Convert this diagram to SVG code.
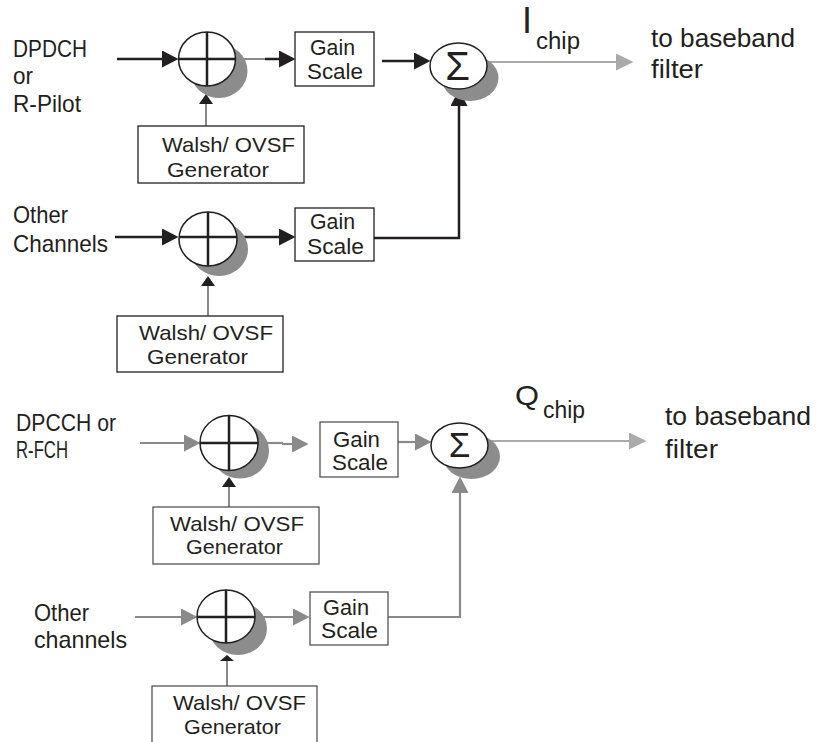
<svg xmlns="http://www.w3.org/2000/svg" width="821" height="742" viewBox="0 0 821 742">
<style>
text{font-family:"Liberation Sans",Arial,sans-serif;fill:#231f20}
.lbl{font-size:24px}
.gs{font-size:22px;text-anchor:start}
.ws{font-size:21px}
.rt{font-size:26px}
.box{fill:#fff;stroke:#231f20;stroke-width:1.3}
.boxg{fill:#fff;stroke:#555;stroke-width:1.3}
.circ{fill:#fff;stroke:#231f20;stroke-width:1.5}
.shadow{fill:#8c8c8c}
.cross{stroke:#231f20;stroke-width:2.5;fill:none}
.blk{stroke:#231f20;stroke-width:2.5;fill:none}
.gry{stroke:#8a8a8a;stroke-width:2.2;fill:none}
.lgt{stroke:#aaaaaa;stroke-width:2.2;fill:none}
.thin{stroke:#3a3a3a;stroke-width:1.2;fill:none}
.sig{font-family:"Liberation Sans",Arial,sans-serif;text-anchor:middle}
</style>
<defs>
<marker id="ab" markerWidth="17" markerHeight="17" refX="13" refY="8.5" orient="auto" markerUnits="userSpaceOnUse"><path d="M0,0 L16.5,8.5 L0,17z" fill="#231f20"/></marker>
<marker id="ag" markerWidth="17" markerHeight="17" refX="13" refY="8.5" orient="auto" markerUnits="userSpaceOnUse"><path d="M0,0 L16.5,8.5 L0,17z" fill="#8a8a8a"/></marker>
<marker id="al" markerWidth="18" markerHeight="17" refX="14" refY="8.5" orient="auto" markerUnits="userSpaceOnUse"><path d="M0,0 L17.5,8.5 L0,17z" fill="#aaaaaa"/></marker>
<marker id="as" markerWidth="10" markerHeight="14" refX="7" refY="7" orient="auto" markerUnits="userSpaceOnUse"><path d="M0,0 L10,7 L0,14z" fill="#231f20"/></marker>
<marker id="af" markerWidth="7" markerHeight="14" refX="4" refY="7" orient="auto" markerUnits="userSpaceOnUse"><path d="M0,0 L6,7 L0,14z" fill="#231f20"/></marker>
</defs>

<g id="labels">
<text class="lbl" x="13" y="57" textLength="74" lengthAdjust="spacingAndGlyphs">DPDCH</text>
<text class="lbl" x="13" y="84" textLength="20" lengthAdjust="spacingAndGlyphs">or</text>
<text class="lbl" x="13" y="112" textLength="68" lengthAdjust="spacingAndGlyphs">R-Pilot</text>
<text class="lbl" x="13" y="223" textLength="55" lengthAdjust="spacingAndGlyphs">Other</text>
<text class="lbl" x="13" y="252" textLength="95" lengthAdjust="spacingAndGlyphs">Channels</text>
<text class="lbl" x="16" y="431" textLength="100" lengthAdjust="spacingAndGlyphs">DPCCH or</text>
<text class="lbl" x="16" y="458" textLength="52" lengthAdjust="spacingAndGlyphs">R-FCH</text>
<text class="lbl" x="34" y="621" textLength="55" lengthAdjust="spacingAndGlyphs">Other</text>
<text class="lbl" x="34" y="648" textLength="93" lengthAdjust="spacingAndGlyphs">channels</text>
<text x="522" y="33" style="font-size:36px">I</text>
<text x="536" y="49" style="font-size:23px" textLength="44" lengthAdjust="spacingAndGlyphs">chip</text>
<text class="rt" x="651" y="47" textLength="144" lengthAdjust="spacingAndGlyphs">to baseband</text>
<text class="rt" x="651" y="78" textLength="52" lengthAdjust="spacingAndGlyphs">filter</text>
<text x="515" y="405" style="font-size:28px" textLength="24" lengthAdjust="spacingAndGlyphs">Q</text>
<text x="543" y="418" style="font-size:23px" textLength="42" lengthAdjust="spacingAndGlyphs">chip</text>
<text class="rt" x="665" y="425" textLength="146" lengthAdjust="spacingAndGlyphs">to baseband</text>
<text class="rt" x="665" y="458" textLength="53" lengthAdjust="spacingAndGlyphs">filter</text>
</g>

<g id="connectors">
<line class="blk" x1="117" y1="59" x2="175" y2="59" marker-end="url(#ab)"/>
<line class="thin" x1="236" y1="59" x2="266" y2="59"/>
<line class="blk" x1="265" y1="59" x2="292" y2="59" marker-end="url(#ab)"/>
<line class="blk" x1="382" y1="61" x2="427" y2="61" marker-end="url(#ab)"/>
<line class="lgt" x1="487" y1="62" x2="630" y2="62" marker-end="url(#al)"/>
<line class="thin" x1="206" y1="126" x2="206" y2="97" marker-end="url(#as)"/>
<line class="blk" x1="115" y1="237" x2="175" y2="237" marker-end="url(#ab)"/>
<line class="blk" x1="237" y1="237" x2="292" y2="237" marker-end="url(#ab)"/>
<polyline class="blk" points="374,238 459,238 459,93" marker-end="url(#ab)"/>
<line class="thin" x1="208" y1="316" x2="208" y2="279" marker-end="url(#as)"/>
<line class="gry" x1="140" y1="443" x2="197" y2="443" marker-end="url(#ag)"/>
<line class="gry" x1="258" y1="443" x2="283" y2="443"/>
<line class="gry" x1="282" y1="444" x2="305" y2="444" marker-end="url(#ag)"/>
<line class="gry" x1="398" y1="442" x2="428" y2="442" marker-end="url(#ag)"/>
<line class="lgt" x1="488" y1="441" x2="643" y2="441" marker-end="url(#al)"/>
<line class="thin" x1="229" y1="507" x2="229" y2="480" marker-end="url(#as)"/>
<line class="gry" x1="135" y1="617" x2="194" y2="617" marker-end="url(#ag)"/>
<line class="gry" x1="255" y1="617" x2="306" y2="617" marker-end="url(#ag)"/>
<polyline class="gry" points="388,617 460,617 460,480" marker-end="url(#ag)"/>
<line class="thin" x1="227" y1="686" x2="227" y2="657" marker-end="url(#af)"/>
</g>

<g id="xor1">
<ellipse class="shadow" cx="219" cy="71" rx="28.5" ry="27"/>
<ellipse class="circ" cx="207" cy="59" rx="28.5" ry="27"/>
<path class="cross" d="M207,32 V86 M178.5,59 H235.5"/>
</g>
<g id="gain1">
<rect class="box" x="295" y="32" width="79" height="54"/>
<text class="gs" x="310" y="55" textLength="45" lengthAdjust="spacingAndGlyphs">Gain</text>
<text class="gs" x="307" y="79" textLength="56" lengthAdjust="spacingAndGlyphs">Scale</text>
</g>
<g id="walsh1">
<rect class="box" x="138" y="126" width="166" height="57"/>
<text class="ws" x="162" y="152" textLength="133" lengthAdjust="spacingAndGlyphs">Walsh/ OVSF</text>
<text class="ws" x="167" y="177" textLength="102" lengthAdjust="spacingAndGlyphs">Generator</text>
</g>
<g id="sum1">
<ellipse class="shadow" cx="470" cy="78" rx="28.5" ry="23"/>
<ellipse class="circ" cx="458.5" cy="66" rx="28.5" ry="23"/>
<text class="sig" x="457.5" y="80" style="font-size:40px">Σ</text>
</g>

<g id="xor2">
<ellipse class="shadow" cx="219" cy="249" rx="29" ry="27"/>
<ellipse class="circ" cx="208" cy="239" rx="29" ry="27"/>
<path class="cross" d="M208,212 V266 M179,237 H237"/>
</g>
<g id="gain2">
<rect class="box" x="295" y="208" width="79" height="53"/>
<text class="gs" x="310" y="229" textLength="45" lengthAdjust="spacingAndGlyphs">Gain</text>
<text class="gs" x="307" y="254" textLength="57" lengthAdjust="spacingAndGlyphs">Scale</text>
</g>
<g id="walsh2">
<rect class="box" x="117" y="316" width="166" height="56"/>
<text class="ws" x="139" y="340" textLength="134" lengthAdjust="spacingAndGlyphs">Walsh/ OVSF</text>
<text class="ws" x="147" y="364" textLength="101" lengthAdjust="spacingAndGlyphs">Generator</text>
</g>

<g id="xor3">
<ellipse class="shadow" cx="240" cy="451" rx="29" ry="27.5"/>
<ellipse class="circ" cx="229" cy="443" rx="29" ry="27.5"/>
<path class="cross" d="M229,415.5 V470.5 M200,443 H258"/>
</g>
<g id="gain3">
<rect class="boxg" x="320" y="422" width="78" height="55"/>
<text class="gs" x="333" y="447" textLength="47" lengthAdjust="spacingAndGlyphs">Gain</text>
<text class="gs" x="332" y="470" textLength="56" lengthAdjust="spacingAndGlyphs">Scale</text>
</g>
<g id="walsh3">
<rect class="boxg" x="153" y="507" width="166" height="57"/>
<text class="ws" x="170" y="531" textLength="134" lengthAdjust="spacingAndGlyphs">Walsh/ OVSF</text>
<text class="ws" x="186" y="554" textLength="97" lengthAdjust="spacingAndGlyphs">Generator</text>
</g>
<g id="sum2">
<ellipse class="shadow" cx="471.5" cy="456.5" rx="28.5" ry="22.5"/>
<ellipse class="circ" cx="459.5" cy="445.5" rx="28.5" ry="22.5"/>
<text class="sig" x="459.5" y="457" style="font-size:35px">Σ</text>
</g>

<g id="xor4">
<ellipse class="shadow" cx="238" cy="628.5" rx="29" ry="26.5"/>
<ellipse class="circ" cx="226" cy="616.5" rx="29" ry="26.5"/>
<path class="cross" d="M226,590 V643 M197,617 H255"/>
</g>
<g id="gain4">
<rect class="boxg" x="310" y="592" width="78" height="53"/>
<text class="gs" x="323" y="615" textLength="46" lengthAdjust="spacingAndGlyphs">Gain</text>
<text class="gs" x="321" y="638" textLength="57" lengthAdjust="spacingAndGlyphs">Scale</text>
</g>
<g id="walsh4">
<rect class="boxg" x="152" y="686" width="165" height="70"/>
<text class="ws" x="173" y="710" textLength="133" lengthAdjust="spacingAndGlyphs">Walsh/ OVSF</text>
<text class="ws" x="184" y="734" textLength="97" lengthAdjust="spacingAndGlyphs">Generator</text>
</g>
</svg>
